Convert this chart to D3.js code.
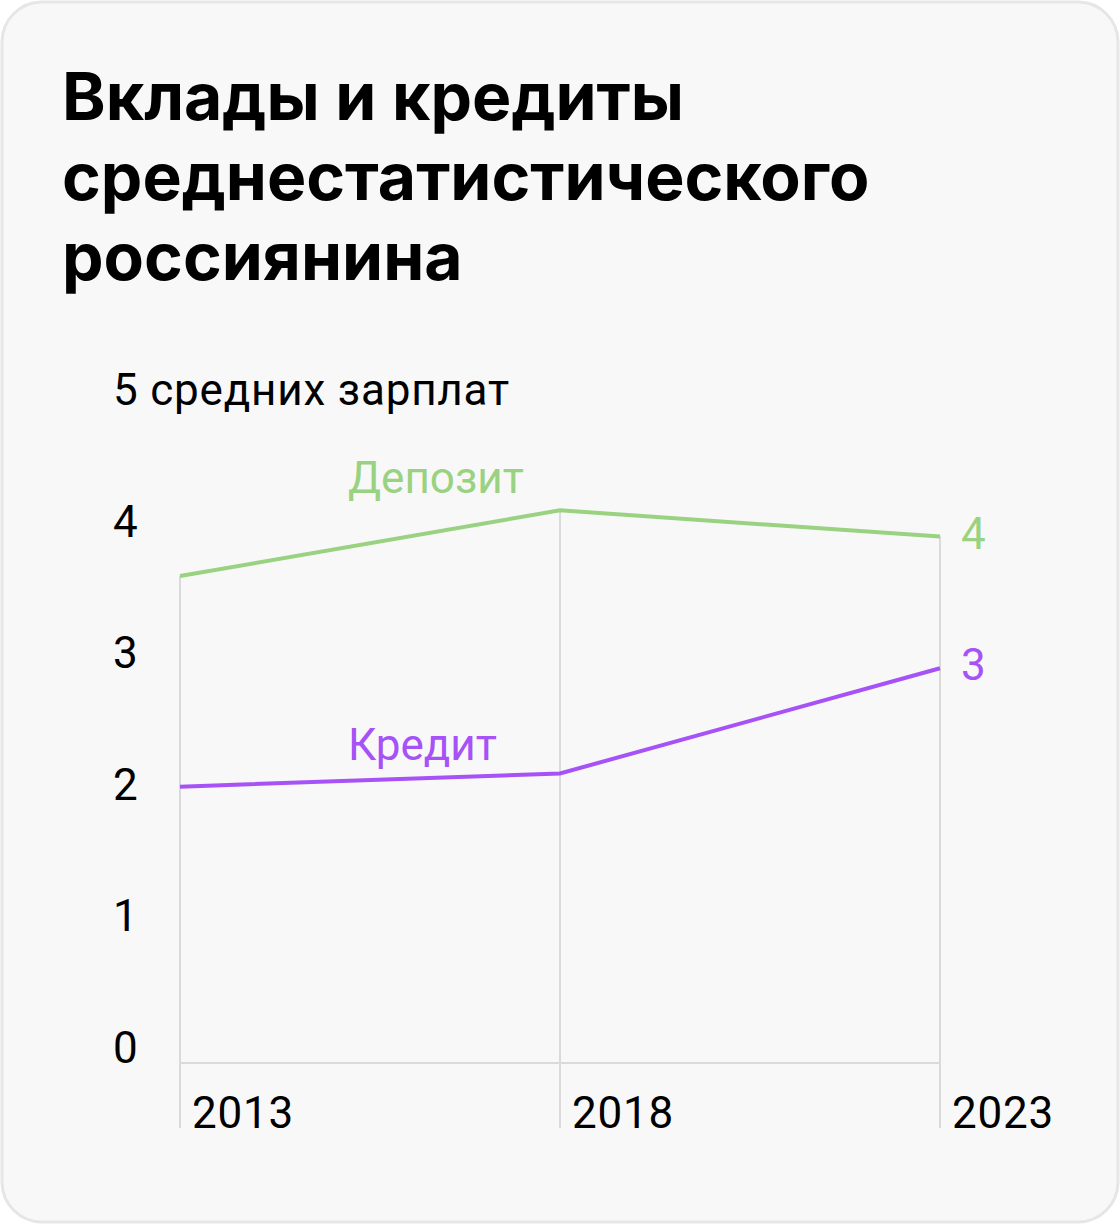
<!DOCTYPE html>
<html><head><meta charset="utf-8">
<script src="https://cdn.jsdelivr.net/npm/d3@7"></script>
<style>
html,body{margin:0;padding:0;background:#ffffff;}
svg{display:block;}
</style></head>
<body>
<svg id="chart" width="1120" height="1224"></svg>
<script>
const titleLines = ["Вклады и кредиты", "среднестатистического", "россиянина"];
const years = [2013, 2018, 2023];
const yTicks = [0, 1, 2, 3, 4, 5];
const yTopLabel = "5 средних зарплат";
const depositValues = [3.7, 4.2, 4.0];
const creditValues = [2.1, 2.2, 3.0];
const seriesNames = ["Депозит", "Кредит"];
const endLabels = ["4", "3"];

const TFONT = "Inter, 'Noto Sans', sans-serif";
const FONT = "Roboto, 'Noto Sans', sans-serif";
const FS = 44;
const colors = {deposit: "#99d280", credit: "#a652f6", grid: "#dadada", text: "#000"};

const svg = d3.select("#chart");
svg.append("rect").attr("x", 2).attr("y", 2).attr("width", 1116).attr("height", 1220)
  .attr("rx", 40).attr("fill", "#f8f8f8").attr("stroke", "#e6e6e6").attr("stroke-width", 3);

svg.append("g").selectAll("text").data(titleLines).join("text")
  .attr("x", 62).attr("y", (d, i) => 120 + i * 80)
  .attr("font-family", TFONT).attr("font-weight", 700).attr("font-size", 66)
  .attr("fill", colors.text).text(d => d);

const x = d3.scalePoint().domain(years).range([180, 940]);
const y = d3.scaleLinear().domain([0, 5]).range([1063, 405]);

const series = [
  {name: seriesNames[0], values: depositValues, color: colors.deposit, end: endLabels[0], lx: 348, lv: 4.33},
  {name: seriesNames[1], values: creditValues, color: colors.credit, end: endLabels[1], lx: 348, lv: 2.30}
];

// vertical gridlines from the top point down
const tops = years.map((yr, i) => d3.max(series, s => s.values[i]));
svg.append("g").selectAll("line").data(years).join("line")
  .attr("x1", d => x(d)).attr("x2", d => x(d))
  .attr("y1", (d, i) => y(tops[i])).attr("y2", 1128)
  .attr("stroke", colors.grid).attr("stroke-width", 2);

// baseline
svg.append("line").attr("x1", x(years[0])).attr("x2", x(years[2]))
  .attr("y1", y(0)).attr("y2", y(0)).attr("stroke", colors.grid).attr("stroke-width", 2);

// y labels
svg.append("g").selectAll("text").data(yTicks).join("text")
  .attr("x", 113).attr("y", d => y(d))
  .attr("font-family", FONT).attr("font-size", FS).attr("letter-spacing", 0.8)
  .attr("fill", colors.text)
  .text(d => d === 5 ? yTopLabel : d);

// x labels
svg.append("g").selectAll("text").data(years).join("text")
  .attr("x", d => x(d) + 12).attr("y", 1128)
  .attr("font-family", FONT).attr("font-size", FS).attr("letter-spacing", 0.8)
  .attr("fill", colors.text)
  .text(d => d);

const line = d3.line().x((d, i) => x(years[i])).y(d => y(d));
series.forEach(s => {
  svg.append("path").datum(s.values).attr("d", line)
    .attr("fill", "none").attr("stroke", s.color).attr("stroke-width", 4);
  svg.append("text").attr("x", x(years[2]) + 21).attr("y", y(s.values[2]) + 12)
    .attr("font-family", FONT).attr("font-size", FS).attr("fill", s.color).text(s.end);
  svg.append("text").attr("x", s.lx).attr("y", y(s.lv))
    .attr("font-family", FONT).attr("font-size", FS).attr("fill", s.color).text(s.name);
});
</script>
</body></html>
